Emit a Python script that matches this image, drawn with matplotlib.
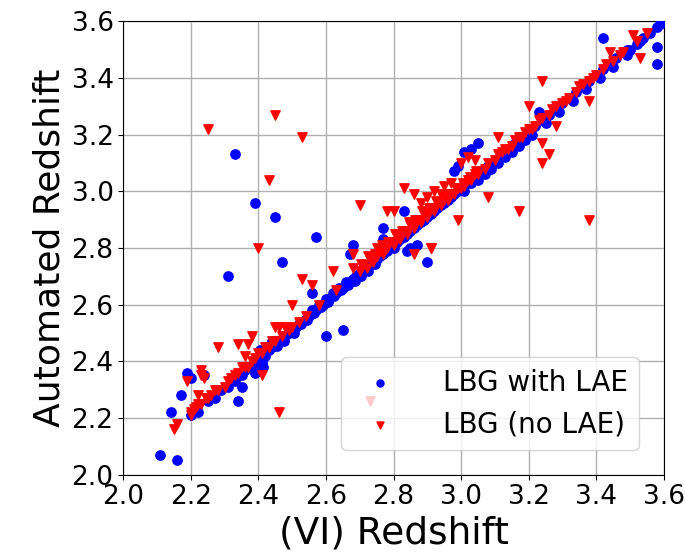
import numpy as np
import matplotlib
matplotlib.use("Agg")
import matplotlib.pyplot as plt

# LBG with LAE: (VI redshift, automated redshift)
lae_vi = [2.11, 2.16, 2.14, 2.17, 2.19, 2.24, 2.20, 2.31, 2.39, 2.45, 2.47, 2.57, 2.68, 2.77, 2.77,
          2.56, 2.60, 2.65, 2.33, 2.35, 2.40, 2.44, 2.41, 2.42, 2.83, 2.84, 2.87, 2.90, 2.85,
          3.05, 3.03, 3.01, 2.98, 2.99, 3.23, 3.42, 3.58, 3.58, 3.53, 3.49, 2.34, 2.67,
          2.20, 2.22, 2.25, 2.27, 2.29, 2.31, 2.33, 2.35, 2.36, 2.38, 2.40, 2.41, 2.42, 2.43, 2.44,
          2.46, 2.47, 2.48, 2.49, 2.50, 2.51, 2.52, 2.53, 2.54, 2.55, 2.56, 2.57, 2.58, 2.59, 2.60,
          2.61, 2.62, 2.63, 2.64, 2.65, 2.66, 2.67, 2.68, 2.69, 2.70, 2.71, 2.72, 2.73, 2.74, 2.75,
          2.76, 2.77, 2.78, 2.79, 2.80, 2.81, 2.82, 2.83, 2.84, 2.85, 2.86, 2.87, 2.88, 2.89, 2.90,
          2.91, 2.92, 2.93, 2.94, 2.95, 2.96, 2.97, 2.98, 2.99, 3.00, 3.02, 3.04, 3.06, 3.08, 3.10,
          3.12, 3.14, 3.16, 3.18, 3.20, 3.22, 3.24, 3.26, 3.28, 3.30, 3.32, 3.34, 3.36, 3.38, 3.40,
          3.42, 3.44, 3.46, 3.48, 3.50, 3.52, 3.54, 3.56, 3.58, 3.59,
          2.455, 2.475, 2.505, 2.525, 2.545, 2.565, 2.585, 2.605, 2.625, 2.645, 2.665, 2.685,
          2.705, 2.725, 2.745, 3.01, 3.03, 3.05, 3.07, 3.09, 3.11, 3.13, 3.15, 3.17, 3.19, 3.21,
          3.25, 3.29, 3.33, 3.37, 3.41, 3.45, 3.49, 2.405, 2.415, 2.39]
lae_auto = [2.07, 2.05, 2.22, 2.28, 2.36, 2.35, 2.34, 2.70, 2.96, 2.91, 2.75, 2.84, 2.81, 2.87, 2.83,
            2.64, 2.49, 2.51, 3.13, 2.31, 2.41, 2.47, 2.39, 2.42, 2.93, 2.79, 2.81, 2.75, 2.80,
            3.17, 3.15, 3.14, 3.07, 3.09, 3.28, 3.54, 3.51, 3.45, 3.53, 3.50, 2.26, 2.78,
            2.21, 2.22, 2.26, 2.27, 2.30, 2.31, 2.33, 2.35, 2.37, 2.38, 2.40, 2.40, 2.43, 2.44, 2.45,
            2.47, 2.48, 2.49, 2.50, 2.51, 2.52, 2.53, 2.54, 2.55, 2.56, 2.58, 2.58, 2.60, 2.60, 2.62,
            2.62, 2.64, 2.64, 2.66, 2.66, 2.68, 2.68, 2.69, 2.70, 2.71, 2.72, 2.73, 2.74, 2.75, 2.76,
            2.77, 2.78, 2.79, 2.80, 2.80, 2.82, 2.83, 2.84, 2.85, 2.86, 2.87, 2.88, 2.89, 2.90, 2.91,
            2.92, 2.93, 2.94, 2.95, 2.96, 2.97, 2.98, 2.99, 3.00, 3.01, 3.03, 3.05, 3.07, 3.09, 3.11,
            3.13, 3.15, 3.17, 3.19, 3.21, 3.23, 3.25, 3.27, 3.29, 3.31, 3.33, 3.35, 3.37, 3.39, 3.41,
            3.43, 3.45, 3.47, 3.49, 3.50, 3.52, 3.54, 3.56, 3.58, 3.59,
            2.455, 2.47, 2.50, 2.53, 2.545, 2.57, 2.59, 2.61, 2.63, 2.65, 2.67, 2.685,
            2.70, 2.72, 2.745, 3.00, 3.03, 3.04, 3.06, 3.08, 3.10, 3.12, 3.14, 3.16, 3.18, 3.20,
            3.24, 3.28, 3.32, 3.36, 3.40, 3.44, 3.48, 2.44, 2.38, 2.36]

# LBG without LAE
nolae_vi = [2.25, 2.45, 2.53, 2.43, 2.70, 2.78, 2.40, 2.75, 2.53, 2.56, 2.62, 2.68, 2.68, 2.50,
            2.28, 2.34, 2.37, 2.36, 2.38, 2.45, 2.46, 2.48, 2.43, 2.37, 2.41, 2.46, 2.23, 2.23, 2.24,
            2.19, 2.22, 2.20, 2.16, 2.15, 2.73, 3.51, 3.55, 3.53, 3.44, 3.47, 3.24, 3.38, 3.20, 3.28,
            3.24, 3.26, 3.24, 3.17, 3.38, 3.08, 2.99, 2.83, 2.92, 2.86, 2.90, 2.91, 2.86, 2.91,
            3.00, 3.02, 3.04, 3.11, 2.88, 2.94, 2.95, 2.97, 2.80,
            2.20, 2.21, 2.22, 2.23, 2.25, 2.26, 2.28, 2.30, 2.31, 2.33, 2.34, 2.36, 2.38, 2.39, 2.41,
            2.43, 2.45, 2.47, 2.49, 2.50, 2.52, 2.54, 2.58, 2.63,
            2.70, 2.71, 2.72, 2.73, 2.74, 2.75, 2.76, 2.77, 2.78, 2.79, 2.80, 2.81, 2.82, 2.83, 2.84,
            2.85, 2.86, 2.87, 2.88, 2.89, 2.90, 2.91, 2.92, 2.93, 2.94, 2.95, 2.96, 2.97, 2.98, 2.99,
            3.00, 3.01, 3.02, 3.03, 3.04, 3.05, 3.07, 3.08, 3.10, 3.12, 3.14, 3.16, 3.18, 3.20, 3.22,
            3.24, 3.26, 3.28, 3.30, 3.32, 3.34, 3.36, 3.38, 3.40, 3.42, 3.45, 3.48, 3.52,
            2.705, 2.725, 2.745, 2.765, 2.785, 2.805, 2.825, 2.845, 2.865, 2.885, 2.905, 2.925,
            2.945, 2.965, 2.985, 3.005, 3.025, 3.045, 3.11, 3.13, 3.15, 3.17, 3.19, 3.21, 3.23,
            3.27, 3.31, 3.35, 3.39, 3.43, 2.215, 2.245, 2.27, 2.32, 2.35, 2.40, 2.42, 2.44]
nolae_auto = [3.22, 3.27, 3.19, 3.04, 2.95, 2.93, 2.80, 2.80, 2.69, 2.67, 2.72, 2.78, 2.73, 2.60,
              2.45, 2.46, 2.46, 2.42, 2.49, 2.52, 2.52, 2.52, 2.45, 2.38, 2.35, 2.22, 2.37, 2.35, 2.34,
              2.33, 2.28, 2.21, 2.18, 2.16, 2.26, 3.55, 3.56, 3.47, 3.49, 3.48, 3.39, 3.32, 3.30, 3.23,
              3.17, 3.13, 3.10, 2.93, 2.90, 2.98, 2.90, 3.01, 3.00, 2.99, 2.98, 2.80, 2.78, 2.80,
              3.10, 3.12, 3.11, 3.19, 2.96, 2.99, 3.02, 3.03, 2.93,
              2.22, 2.23, 2.25, 2.25, 2.27, 2.28, 2.30, 2.31, 2.33, 2.35, 2.36, 2.38, 2.40, 2.41, 2.43,
              2.45, 2.47, 2.49, 2.51, 2.52, 2.54, 2.56, 2.60, 2.65,
              2.72, 2.74, 2.73, 2.76, 2.75, 2.77, 2.79, 2.78, 2.80, 2.82, 2.81, 2.84, 2.83, 2.86, 2.85,
              2.88, 2.87, 2.90, 2.89, 2.92, 2.91, 2.94, 2.93, 2.96, 2.95, 2.97, 2.97, 2.99, 2.99, 3.01,
              3.01, 3.02, 3.04, 3.04, 3.06, 3.06, 3.08, 3.10, 3.11, 3.14, 3.15, 3.18, 3.19, 3.22, 3.23,
              3.26, 3.27, 3.30, 3.31, 3.33, 3.35, 3.38, 3.39, 3.41, 3.43, 3.46, 3.49, 3.53,
              2.745, 2.77, 2.78, 2.81, 2.82, 2.85, 2.86, 2.89, 2.90, 2.93, 2.94, 2.965,
              2.975, 2.99, 3.01, 3.03, 3.05, 3.07, 3.13, 3.15, 3.16, 3.19, 3.21, 3.22, 3.25,
              3.29, 3.32, 3.37, 3.40, 3.45, 2.24, 2.27, 2.30, 2.34, 2.38, 2.43, 2.45, 2.47]

fig = plt.figure(figsize=(6.85, 5.59), dpi=100)
ax = fig.add_axes([0.180, 0.151, 0.789, 0.811])

ax.scatter(lae_vi, lae_auto, s=45, c="blue", marker="o", label="LBG with LAE", zorder=3)
ax.scatter(nolae_vi, nolae_auto, s=45, c="red", marker="v", label="LBG (no LAE)", zorder=3)

ax.set_xlim(2.0, 3.6)
ax.set_ylim(2.0, 3.6)
ax.set_xticks(np.arange(2.0, 3.61, 0.2))
ax.set_yticks(np.arange(2.0, 3.61, 0.2))
ax.tick_params(labelsize=19)
ax.grid(True, color="#b0b0b0", linewidth=1.0)
ax.set_axisbelow(True)

ax.set_xlabel("(VI) Redshift", fontsize=27)
ax.set_ylabel("Automated Redshift", fontsize=26)
ax.legend(loc="lower right", fontsize=20, markerscale=0.75, handletextpad=1.25,
          borderaxespad=0.9)

fig.savefig("out.png", dpi=100)
